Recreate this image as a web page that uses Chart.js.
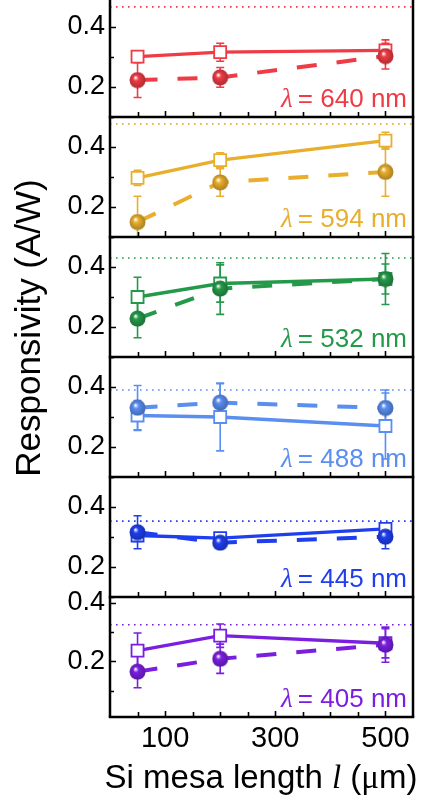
<!DOCTYPE html>
<html>
<head>
<meta charset="utf-8">
<script src="https://cdn.jsdelivr.net/npm/chart.js@4.4.0/dist/chart.umd.min.js"></script>
<style>
  html, body { margin: 0; padding: 0; background: #fff; }
</style>
</head>
<body>
<canvas id="respChart" width="421" height="804"></canvas>
<script>
// mesa lengths (um) and the six laser lines, top panel first
const lengths = [50, 200, 500];
const wavelengths = ['640', '594', '532', '488', '445', '405'];

// open squares (solid line)
const squareVals = [
  [0.301, 0.316, 0.322],
  [0.297, 0.356, 0.421],
  [0.300, 0.345, 0.360],
  [0.305, 0.300, 0.270],
  [0.305, 0.296, 0.327],
  [0.237, 0.288, 0.262]
];
const squareErr = [
  [0.015, 0.030, 0.035],
  [0.025, 0.025, 0.028],
  [0.066, 0.062, 0.050],
  [0.050, 0.113, 0.110],
  [0.020, 0.012, 0.020],
  [0.060, 0.040, 0.050]
];

// filled spheres (dashed line)
const circleVals = [
  [0.223, 0.232, 0.303],
  [0.150, 0.282, 0.317],
  [0.228, 0.328, 0.360],
  [0.331, 0.348, 0.330],
  [0.316, 0.281, 0.301],
  [0.165, 0.209, 0.257]
];
const circleErr = [
  [0.058, 0.033, 0.043],
  [0.086, 0.046, 0.081],
  [0.064, 0.086, 0.085],
  [0.074, 0.063, 0.060],
  [0.055, 0.012, 0.040],
  [0.055, 0.050, 0.060]
];

// dotted reference level in each panel
const refLevels = [0.467, 0.477, 0.430, 0.390, 0.353, 0.325];

const yTickVals = [0.2, 0.4];
const yMinorVals = [0.1, 0.3, 0.5];
const xTickVals = [100, 300, 500];
const xMinorVals = [50, 150, 200, 250, 350, 400, 450];

const yMin = [0.1, 0.1, 0.1, 0.1, 0.1, 0.01];
const yMax = [0.49, 0.5, 0.5, 0.5, 0.5, 0.42];

const colors = ['#EE3B44', '#E8AE2C', '#25994A', '#5A8EF0', '#1F3FEF', '#7A1FE0'];
const panelH = [117, 120, 120, 120, 120, 120];

const SANS = '"Liberation Sans", Arial, sans-serif';
const SERIF = '"Liberation Serif", "Times New Roman", serif';

function darker(hex, f) {
  const n = parseInt(hex.slice(1), 16);
  const r = Math.round(((n >> 16) & 255) * f);
  const g = Math.round(((n >> 8) & 255) * f);
  const b = Math.round((n & 255) * f);
  return `rgb(${r},${g},${b})`;
}

// shaded ball used as point style
function sphere(color) {
  const c = document.createElement('canvas');
  c.width = 17; c.height = 17;
  const g = c.getContext('2d');
  const grad = g.createRadialGradient(6.3, 5.8, 0.3, 8.5, 8.5, 8.5);
  grad.addColorStop(0, '#ffffff');
  grad.addColorStop(0.3, color);
  grad.addColorStop(1, darker(color, 0.72));
  g.fillStyle = grad;
  g.beginPath();
  g.arc(8.5, 8.5, 8, 0, Math.PI * 2);
  g.fill();
  return c;
}

const datasets = [];
wavelengths.forEach((wl, i) => {
  datasets.push({
    label: wl + ' sphere',
    data: lengths.map((x, j) => ({ x, y: circleVals[i][j] })),
    yAxisID: 'y' + i,
    borderColor: colors[i],
    borderWidth: 4,
    borderDash: [20, 20],
    pointStyle: sphere(colors[i]),
    pointRadius: 8
  });
});
wavelengths.forEach((wl, i) => {
  datasets.push({
    label: wl + ' square',
    data: lengths.map((x, j) => ({ x, y: squareVals[i][j] })),
    yAxisID: 'y' + i,
    borderColor: colors[i],
    borderWidth: 3.3,
    pointStyle: 'rect',
    pointRadius: 8.5,
    pointBackgroundColor: '#fff',
    pointBorderColor: colors[i],
    pointBorderWidth: 1.8
  });
});

const scales = {
  x: {
    type: 'linear',
    position: 'bottom',
    min: 0,
    max: 550,
    grid: { display: false, drawTicks: false },
    border: { display: false },
    ticks: { color: '#000', font: { family: SANS, size: 29 }, padding: 5 },
    afterBuildTicks: s => { s.ticks = xTickVals.map(v => ({ value: v })); },
    afterFit: s => { s.height = 87; s.paddingLeft = 0; s.paddingRight = 0; }
  }
};
wavelengths.forEach((wl, i) => {
  scales['y' + i] = {
    type: 'linear',
    position: 'left',
    stack: 'panels',
    stackWeight: panelH[i],
    weight: 10 - i,
    min: yMin[i],
    max: yMax[i],
    grid: { display: false, drawTicks: false },
    border: { display: false },
    ticks: {
      color: '#000',
      font: { family: SANS, size: 27 },
      padding: 5,
      callback: v => v.toFixed(1)
    },
    afterBuildTicks: s => { s.ticks = yTickVals.map(v => ({ value: v })); },
    afterFit: s => { s.width = 110; s.paddingTop = 0; s.paddingBottom = 0; }
  };
});

function panelBox(chart, i) {
  const s = chart.scales['y' + i];
  return { left: chart.chartArea.left, right: chart.chartArea.right, top: s.top, bottom: s.bottom };
}

const decor = {
  id: 'decor',
  beforeDatasetsDraw(chart) {
    const ctx = chart.ctx;
    const xs = chart.scales.x;
    wavelengths.forEach((wl, i) => {
      const b = panelBox(chart, i);
      const ys = chart.scales['y' + i];
      ctx.save();
      ctx.beginPath();
      ctx.rect(b.left, b.top, b.right - b.left, b.bottom - b.top);
      ctx.clip();
      // dotted level
      ctx.strokeStyle = colors[i];
      ctx.lineWidth = 1.6;
      ctx.setLineDash([1.6, 4.4]);
      const yr = ys.getPixelForValue(refLevels[i]);
      ctx.beginPath();
      ctx.moveTo(b.left, yr);
      ctx.lineTo(b.right, yr);
      ctx.stroke();
      ctx.setLineDash([]);
      // error bars
      ctx.lineWidth = 1.6;
      [circleVals[i], squareVals[i]].forEach((vals, k) => {
        const errs = k === 0 ? circleErr[i] : squareErr[i];
        vals.forEach((v, j) => {
          const px = xs.getPixelForValue(lengths[j]);
          const y1 = ys.getPixelForValue(v - errs[j]);
          const y2 = ys.getPixelForValue(v + errs[j]);
          ctx.beginPath();
          ctx.moveTo(px, y1); ctx.lineTo(px, y2);
          ctx.moveTo(px - 4, y1); ctx.lineTo(px + 4, y1);
          ctx.moveTo(px - 4, y2); ctx.lineTo(px + 4, y2);
          ctx.stroke();
        });
      });
      ctx.restore();
    });
  },
  afterDraw(chart) {
    const ctx = chart.ctx;
    const xs = chart.scales.x;
    const area = chart.chartArea;
    ctx.save();
    ctx.strokeStyle = '#000';
    ctx.lineWidth = 2.5;
    ctx.beginPath();
    ctx.moveTo(area.left, area.top); ctx.lineTo(area.left, area.bottom);
    ctx.moveTo(area.right, area.top); ctx.lineTo(area.right, area.bottom);
    ctx.stroke();
    wavelengths.forEach((wl, i) => {
      const b = panelBox(chart, i);
      const ys = chart.scales['y' + i];
      ctx.strokeStyle = '#000';
      ctx.lineWidth = 2.5;
      ctx.beginPath();
      ctx.moveTo(b.left - 1.25, b.bottom); ctx.lineTo(b.right + 1.25, b.bottom);
      ctx.stroke();
      // inward ticks
      ctx.lineWidth = 1.6;
      ctx.beginPath();
      yTickVals.concat(yMinorVals).forEach(v => {
        if (v < yMin[i] || v > yMax[i]) return;
        const y = Math.round(ys.getPixelForValue(v)) + 0.5;
        const len = yTickVals.includes(v) ? 6 : 4;
        ctx.moveTo(b.left, y); ctx.lineTo(b.left + len, y);
      });
      xTickVals.concat(xMinorVals).forEach(v => {
        const x = Math.round(xs.getPixelForValue(v)) + 0.5;
        const len = xTickVals.includes(v) ? 6 : 5;
        ctx.moveTo(x, b.bottom); ctx.lineTo(x, b.bottom - len);
      });
      ctx.stroke();
      // wavelength label
      ctx.fillStyle = colors[i];
      ctx.textBaseline = 'alphabetic';
      ctx.textAlign = 'right';
      ctx.font = '26px ' + SANS;
      const rest = ' = ' + wl + ' nm';
      const xr = b.right - 6;
      const yb = b.bottom - 10;
      ctx.fillText(rest, xr, yb);
      const w = ctx.measureText(rest).width;
      ctx.font = 'italic 27px ' + SERIF;
      ctx.fillText('\u03bb', xr - w + 2, yb);
    });
    // axis titles
    ctx.fillStyle = '#000';
    ctx.textAlign = 'center';
    ctx.textBaseline = 'middle';
    ctx.font = '35px ' + SANS;
    ctx.translate(30, 328);
    ctx.rotate(-Math.PI / 2);
    ctx.fillText('Responsivity (A/W)', 0, 0);
    ctx.setTransform(1, 0, 0, 1, 0, 0);
    const parts = [
      ['Si mesa length ', '33px ' + SANS],
      ['l', 'italic 33px ' + SERIF],
      [' (', '33px ' + SANS],
      ['\u03bc', '33px ' + SERIF],
      ['m)', '33px ' + SANS]
    ];
    let total = 0;
    parts.forEach(p => { ctx.font = p[1]; total += ctx.measureText(p[0]).width; });
    let x = 261 - total / 2;
    ctx.textAlign = 'left';
    ctx.textBaseline = 'alphabetic';
    parts.forEach(p => {
      ctx.font = p[1];
      ctx.fillText(p[0], x, 788);
      x += ctx.measureText(p[0]).width;
    });
    ctx.restore();
  }
};

new Chart(document.getElementById('respChart'), {
  type: 'line',
  data: { datasets },
  options: {
    responsive: false,
    animation: false,
    layout: { autoPadding: false, padding: { left: 0, right: 8, top: 0, bottom: 0 } },
    scales,
    plugins: { legend: { display: false }, tooltip: { enabled: false } }
  },
  plugins: [decor]
});
</script>
</body>
</html>
